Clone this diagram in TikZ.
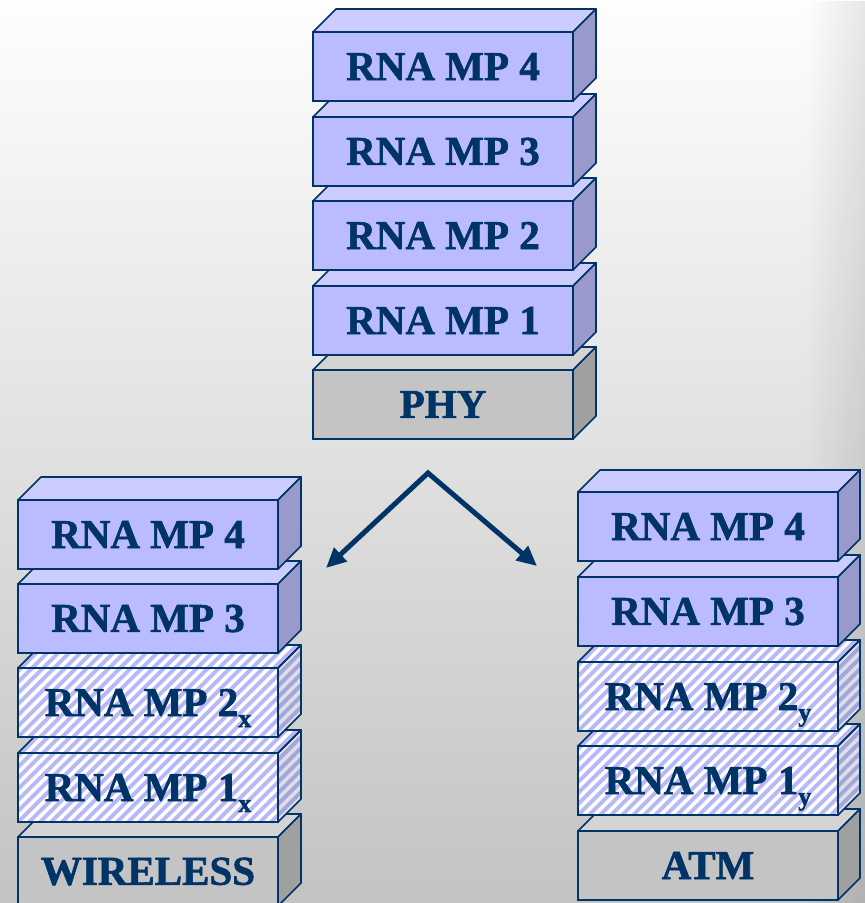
\documentclass[tikz,border=0pt]{standalone}
\usepackage{fontspec}
\setmainfont{Liberation Serif}[BoldFeatures={FakeBold=1.5}]
\usetikzlibrary{arrows.meta,fadings}

% palette
\definecolor{navy}{RGB}{0,51,102}
\definecolor{lavfront}{RGB}{187,187,255}
\definecolor{lavtop}{RGB}{204,204,255}
\definecolor{lavside}{RGB}{153,153,204}
\definecolor{grfront}{RGB}{196,196,196}
\definecolor{grtop}{RGB}{212,212,212}
\definecolor{grside}{RGB}{160,160,160}
\definecolor{stripe}{RGB}{184,184,248}
\definecolor{stripeside}{RGB}{165,165,218}
\definecolor{hatchsidebg}{RGB}{222,222,230}
\definecolor{bgtop}{RGB}{254,254,254}
\definecolor{bgbottom}{RGB}{195,195,195}

\tikzfading[name=edgefade, left color=transparent!100, right color=transparent!0]

\tikzset{
  layer/.style={draw=navy, line width=1.7pt, minimum width=260pt,
    minimum height=69pt, inner sep=0pt, outer sep=0pt, anchor=north west,
    text=navy, font=\fontsize{41}{41}\selectfont\bfseries},
  face/.style={draw=navy, line width=1.7pt, line join=round},
  stripeline/.style={line width=3.9pt},
  % solid protocol layers
  mpfront/.style={fill=lavfront}, mptop/.style={fill=lavtop}, mpside/.style={fill=lavside},
  % physical layers
  phfront/.style={fill=grfront}, phtop/.style={fill=grtop}, phside/.style={fill=grside},
  flow/.style={draw=navy, line width=5pt, line join=miter,
    {Triangle[length=20pt,width=18pt]}-{Triangle[length=20pt,width=18pt]}},
}

% solid layer: #1 name, #2 x, #3 y (front top-left), #4 depth, #5 kind, #6 label
\newcommand\slab[6]{%
  \node[layer, #5front] (#1) at (#2,#3) {#6};
  \path[face, #5top] (#1.north west) -- ++(#4,-#4)
    -- ([shift={(#4,-#4)}]#1.north east) -- (#1.north east) -- cycle;
  \path[face, #5side] (#1.north east) -- ++(#4,-#4)
    -- ([shift={(#4,-#4)}]#1.south east) -- (#1.south east) -- cycle;
}

% striped layer: #1 name, #2 x, #3 y (front top-left), #4 depth, #5 label
\newcommand\hslab[5]{%
  \begin{scope}[shift={(#2,#3)}]
    % front and top: white with lavender stripes
    \begin{scope}
      \clip (0,69) -- (0,0) -- (#4,-#4) -- (260+#4,-#4) -- (260,0) -- (260,69) -- cycle;
      \fill[white] (-5,75) rectangle (300,-30);
      \foreach \k in {-120,-109,...,300}
        \draw[stripe, stripeline] (\k,90) -- ++(130,-130);
    \end{scope}
    % side: grey with darker stripes
    \begin{scope}
      \clip (260,0) -- (260+#4,-#4) -- (260+#4,69-#4) -- (260,69) -- cycle;
      \fill[hatchsidebg] (255,75) rectangle (300,-30);
      \foreach \k in {-120,-109,...,300}
        \draw[stripeside, stripeline] (\k,90) -- ++(130,-130);
    \end{scope}
    \node[layer] (#1) at (0,0) {#5};
    \draw[face] (#1.north west) -- ++(#4,-#4)
      -- ([shift={(#4,-#4)}]#1.north east) -- (#1.north east);
    \draw[face] (#1.north east) -- ++(#4,-#4)
      -- ([shift={(#4,-#4)}]#1.south east) -- (#1.south east);
  \end{scope}
}
\newcommand\lsub[1]{\smash{\raisebox{-11pt}{\fontsize{26}{26}\selectfont #1}}}

\begin{document}
\begin{tikzpicture}[x=1pt, y=-1pt]
  \useasboundingbox (0,0) rectangle (865,903);
  \shade[top color=bgtop, bottom color=bgbottom] (0,0) rectangle (865,903);
  \fill[black, opacity=0.09, path fading=edgefade] (805,0) rectangle (865,903);

  % generic stack
  \slab{phy}{313}{370}{23}{ph}{PHY}
  \slab{mpa}{313}{286}{23}{mp}{RNA MP 1}
  \slab{mpb}{313}{201}{23}{mp}{RNA MP 2}
  \slab{mpc}{313}{117}{23}{mp}{RNA MP 3}
  \slab{mpd}{313}{32}{23}{mp}{RNA MP 4}

  % wireless stack
  \slab{wl}{18}{837}{23}{ph}{WIRELESS}
  \hslab{wla}{18}{753}{23}{RNA MP 1\lsub{x}}
  \hslab{wlb}{18}{668}{23}{RNA MP 2\lsub{x}}
  \slab{wlc}{18}{584}{23}{mp}{RNA MP 3}
  \slab{wld}{18}{500}{23}{mp}{RNA MP 4}

  % ATM stack
  \slab{atm}{578}{831}{22}{ph}{ATM}
  \hslab{atma}{578}{746}{22}{RNA MP 1\lsub{y}}
  \hslab{atmb}{578}{662}{22}{RNA MP 2\lsub{y}}
  \slab{atmc}{578}{577}{22}{mp}{RNA MP 3}
  \slab{atmd}{578}{492}{22}{mp}{RNA MP 4}

  % specialisation arrows
  \coordinate (apex) at (428,473);
  \coordinate (lefttip) at (326,568);
  \coordinate (righttip) at (537,566);
  \draw[flow] (lefttip) -- (apex) -- (righttip);
\end{tikzpicture}
\end{document}
